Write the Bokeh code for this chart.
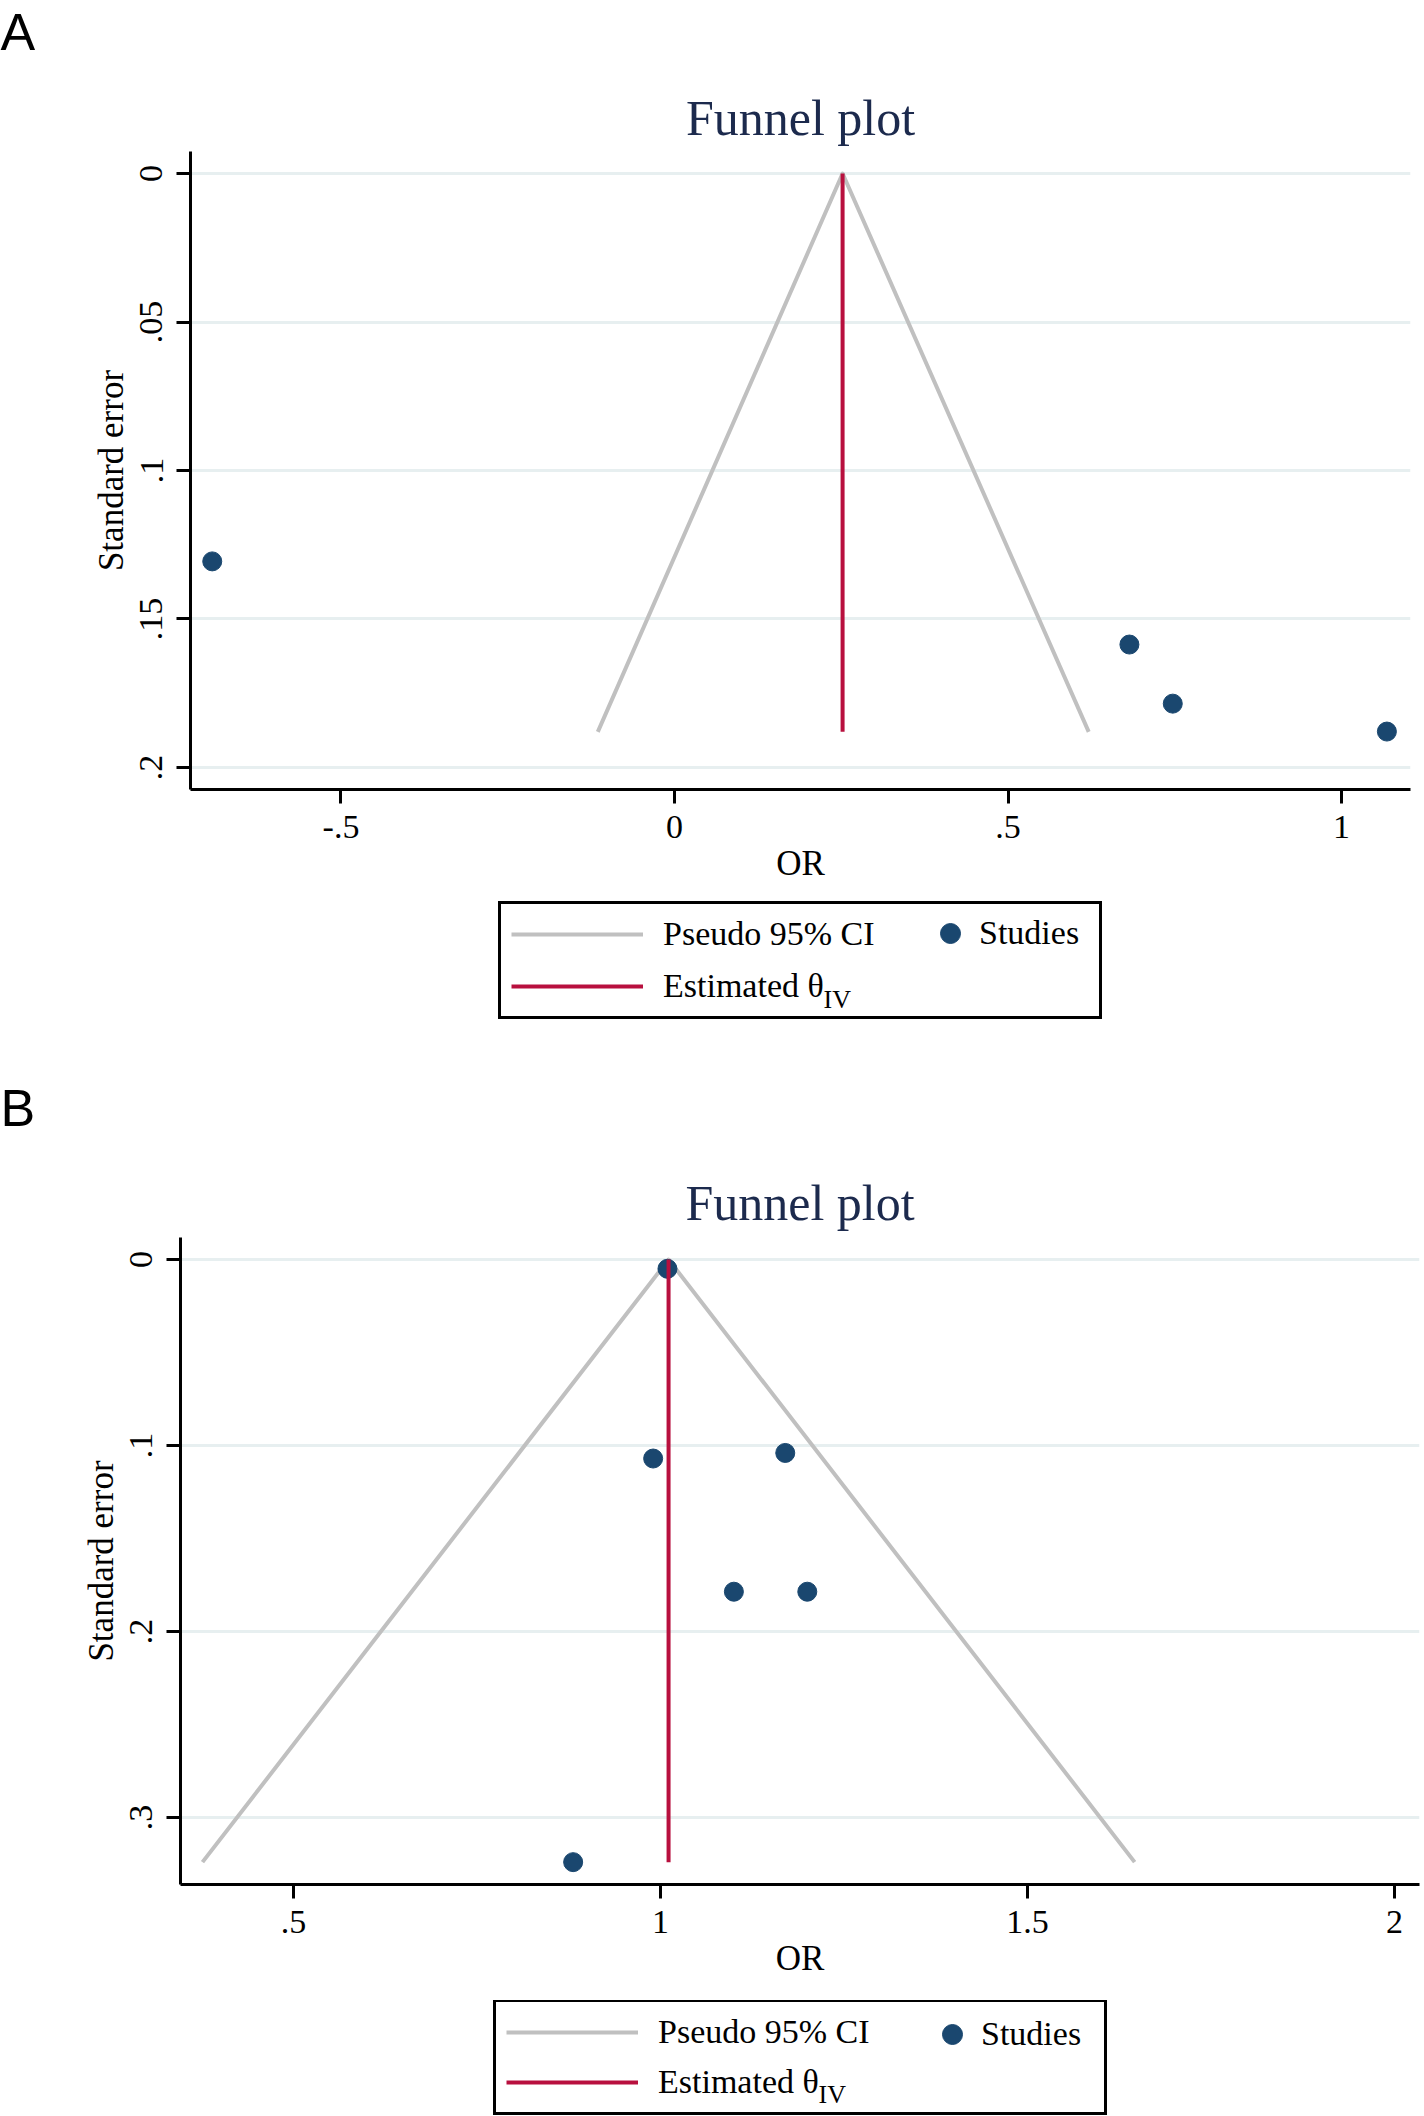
from bokeh.plotting import figure
from bokeh.models import Range1d, FixedTicker, Legend, LegendItem, Label, Title
from bokeh.embed import file_html
from bokeh.resources import INLINE

# ---------------- data ----------------
# Panel A
a_or = [-0.693, 0.682, 0.747, 1.068]
a_se = [0.1306, 0.1586, 0.1785, 0.1879]
a_funnel_or = [-0.115, 0.252, 0.621]
a_funnel_se = [0.188, 0.0, 0.188]
a_theta_or = [0.252, 0.252]
a_theta_se = [0.0, 0.188]
a_xticks = [-0.5, 0.0, 0.5, 1.0]
a_xtick_labels = ["-.5", "0", ".5", "1"]
a_yticks = [0.0, 0.05, 0.1, 0.15, 0.2]
a_ytick_labels = ["0", ".05", ".1", ".15", ".2"]

# Panel B
b_or = [1.0095, 0.990, 1.170, 1.100, 1.200, 0.881]
b_se = [0.005, 0.107, 0.104, 0.1786, 0.1786, 0.324]
b_funnel_or = [0.376, 1.011, 1.646]
b_funnel_se = [0.324, 0.0, 0.324]
b_theta_or = [1.011, 1.011]
b_theta_se = [0.0, 0.324]
b_xticks = [0.5, 1.0, 1.5, 2.0]
b_xtick_labels = [".5", "1", "1.5", "2"]
b_yticks = [0.0, 0.1, 0.2, 0.3]
b_ytick_labels = ["0", ".1", ".2", ".3"]

title_text = "Funnel plot"
x_label = "OR"
y_label = "Standard error"
legend_labels = ["Pseudo 95% CI", "Studies", "Estimated θ"]
legend_sub = "IV"

SERIF = "Liberation Serif"
NAVY = "#1a476f"
RED = "#b8103e"
GRAY = "#c0c0c0"
GRID = "#e7eff0"
TITLE_C = "#1c2a4d"
W = 1424


def letter_title(letter, offset, standoff):
    return Title(text=letter, align="left", offset=offset, standoff=standoff,
                 text_font="Liberation Sans", text_font_size="52px",
                 text_font_style="normal", text_color="black")


def make_panel(letter, xs, ys, fx, fy, tx, ty, xticks, xlabels, yticks, ylabels,
               xr, yr, height, mb, title_standoff, letter_standoff):
    p = figure(width=W, height=height, output_backend="svg", toolbar_location=None,
               x_range=Range1d(*xr), y_range=Range1d(*yr),
               min_border_left=mb[0], min_border_right=mb[1],
               min_border_top=mb[2], min_border_bottom=mb[3], title=None)
    p.outline_line_color = None
    p.background_fill_color = "white"
    p.border_fill_color = "white"
    p.add_layout(Title(text=title_text, align="center", standoff=title_standoff,
                       text_font=SERIF, text_font_size="50px", text_font_style="normal",
                       text_color=TITLE_C), "above")
    if letter:
        p.add_layout(letter_title(letter, -mb[0], letter_standoff), "above")

    for ax in (p.xaxis[0], p.yaxis[0]):
        ax.axis_line_width = 3
        ax.axis_line_color = "black"
        ax.major_tick_line_width = 3
        ax.major_tick_line_color = "black"
        ax.major_tick_out = 14
        ax.major_tick_in = 0
        ax.minor_tick_line_color = None
        ax.major_label_text_font = SERIF
        ax.major_label_text_font_size = "34px"
        ax.major_label_text_color = "black"
        ax.axis_label_text_font = SERIF
        ax.axis_label_text_font_size = "35px"
        ax.axis_label_text_font_style = "normal"
        ax.axis_label_text_color = "black"
    p.xaxis.ticker = FixedTicker(ticks=xticks)
    p.xaxis.major_label_overrides = dict(zip(xticks, xlabels))
    p.yaxis.ticker = FixedTicker(ticks=yticks)
    p.yaxis.major_label_overrides = dict(zip(yticks, ylabels))
    p.yaxis.major_label_orientation = "vertical"
    p.xaxis.axis_label = x_label
    p.yaxis.axis_label = y_label
    p.xaxis.major_label_standoff = 12
    p.xaxis.axis_label_standoff = 3
    p.yaxis.major_label_standoff = 14
    p.yaxis.axis_label_standoff = 7

    p.xgrid.grid_line_color = None
    p.ygrid.grid_line_color = GRID
    p.ygrid.grid_line_width = 3

    p.line(fx, fy, line_color=GRAY, line_width=4, line_join="round")
    p.scatter(xs, ys, size=19, fill_color=NAVY, line_color=NAVY)
    p.line(tx, ty, line_color=RED, line_width=4)
    return p


def make_legend(height, fx, fy, tx, ty, xs, ys, box_xy, box_w, spacing, studies_xy, sub_xy):
    # the data ranges lie far away from the panel's data, so only the legend shows
    lg = figure(width=W, height=height, output_backend="svg", toolbar_location=None,
                x_range=Range1d(100, 101), y_range=Range1d(100, 101), min_border=0,
                x_axis_type=None, y_axis_type=None, title=None)
    lg.outline_line_color = None
    lg.background_fill_color = "white"
    lg.border_fill_color = "white"
    r_gray = lg.line(fx, fy, line_color=GRAY, line_width=4)
    r_red = lg.line(tx, ty, line_color=RED, line_width=4)
    r_pts = lg.scatter(xs, ys, size=19, fill_color=NAVY, line_color=NAVY)

    leg1 = Legend(items=[LegendItem(label=legend_labels[0], renderers=[r_gray]),
                         LegendItem(label=legend_labels[2], renderers=[r_red])],
                  location=box_xy, orientation="vertical",
                  glyph_width=132, glyph_height=40, label_height=40,
                  label_width=box_w - 20 - 132 - 20, label_standoff=20,
                  padding=10, spacing=spacing, margin=0,
                  border_line_color="black", border_line_width=3, border_line_alpha=1.0,
                  background_fill_alpha=0.0,
                  label_text_font=SERIF, label_text_font_size="34px",
                  label_text_color="black")
    leg2 = Legend(items=[LegendItem(label=legend_labels[1], renderers=[r_pts])],
                  location=studies_xy, orientation="vertical",
                  glyph_width=50, glyph_height=50, label_height=50,
                  label_standoff=4, padding=0, spacing=0, margin=0,
                  border_line_color=None, background_fill_alpha=0.0,
                  label_text_font=SERIF, label_text_font_size="34px",
                  label_text_color="black")
    lg.add_layout(leg1, "center")
    lg.add_layout(leg2, "center")
    lg.add_layout(Label(x=sub_xy[0], y=sub_xy[1], x_units="screen", y_units="screen",
                        text=legend_sub, text_font=SERIF, text_font_size="26px",
                        text_color="black", text_baseline="alphabetic"))
    return lg


# Letter A strip: page y 0-60 (title panel only)
letA = figure(width=W, height=60, output_backend="svg", toolbar_location=None,
              x_range=Range1d(0, 1), y_range=Range1d(0, 1), min_border=0,
              x_axis_type=None, y_axis_type=None, title=None)
letA.outline_line_color = None
letA.background_fill_color = "white"
letA.border_fill_color = "white"
letA.add_layout(letter_title("A", 0, 0), "above")

# Panel A: page frame left 190, right 1410, top 151, bottom 789; figure spans page y 60-900
pA = make_panel(None, a_or, a_se, a_funnel_or, a_funnel_se, a_theta_or, a_theta_se,
                a_xticks, a_xtick_labels, a_yticks, a_ytick_labels,
                xr=(-0.7256, 1.1034), yr=(0.20741, -0.00741), height=840,
                mb=(190, 14, 91, 111), title_standoff=11, letter_standoff=0)
# legend A: page y 900-1040, box (498,904)-(1100,1015)
legA = make_legend(140, a_funnel_or, a_funnel_se, a_theta_or, a_theta_se, a_or, a_se,
                   box_xy=(498, 21), box_w=598, spacing=12, studies_xy=(925, 82),
                   sub_xy=(823, 41))

# Panel B: page frame left 180, right 1419, top 1237, bottom 1884; figure spans page y 1040-2000
pB = make_panel("B", b_or, b_se, b_funnel_or, b_funnel_se, b_theta_or, b_theta_se,
                b_xticks, b_xtick_labels, b_yticks, b_ytick_labels,
                xr=(0.34605, 2.0341), yr=(0.33602, -0.01183), height=960,
                mb=(180, 5, 197, 116), title_standoff=13, letter_standoff=59)
# legend B: page y 2000-2116, box (493,2000)-(1104,2113)
legB = make_legend(116, b_funnel_or, b_funnel_se, b_theta_or, b_theta_se, b_or, b_se,
                   box_xy=(493, 1), box_w=608, spacing=10, studies_xy=(927, 57),
                   sub_xy=(818, 22))

open("out.html", "w").write(file_html([letA, pA, legA, pB, legB], INLINE))
